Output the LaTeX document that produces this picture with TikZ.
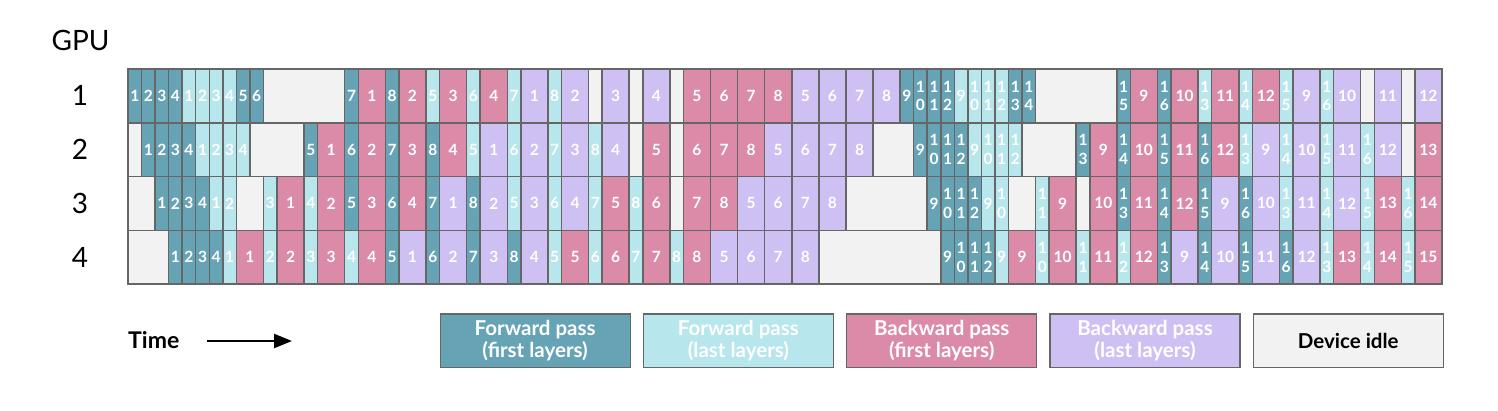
\documentclass[tikz,border=0pt]{standalone}
\usepackage{fontspec}
\setmainfont{Lato}
\usetikzlibrary{arrows.meta}

\definecolor{fwdfirst}{RGB}{101,163,181}
\definecolor{fwdlast}{RGB}{183,230,236}
\definecolor{bwdfirst}{RGB}{219,139,167}
\definecolor{bwdlast}{RGB}{206,192,243}
\definecolor{idlegray}{RGB}{242,242,242}
\definecolor{edgegray}{RGB}{102,102,102}

% one GPU row: kind/width in time slots/label
\newcommand\drawrow[2]{%
  \foreach \kd/\wu/\lbl [count=\idx, remember=\en as \st (initially 0), evaluate=\wu as \en using \st+\wu] in {#2}
    \node[cell, \kd, minimum width={\wu*\CellW*1pt}] (g#1c\idx) at ({\ChartX+\st*\CellW}, {\ChartY+(#1-1)*\RowH}) {\lbl};
}

\begin{document}
\begin{tikzpicture}[x=1pt, y=-1pt,
    cell/.style={draw=edgegray, line width=1.5pt, inner sep=0pt, outer sep=0pt, anchor=north west,
      minimum height={\RowH*1pt}, align=center, text=white, font=\bfseries\fontsize{15.5}{18.7}\selectfont},
    fwdA/.style={fill=fwdfirst},
    fwdB/.style={fill=fwdlast},
    bwdA/.style={fill=bwdfirst},
    bwdB/.style={fill=bwdlast},
    idle/.style={fill=idlegray},
    legend/.style={draw=edgegray, line width=1.2pt, inner sep=0pt, anchor=north west, minimum width=190pt,
      minimum height=53.5pt, align=center, font=\bfseries\fontsize{20.5}{22}\selectfont},
    rowlab/.style={font=\fontsize{28}{32}\selectfont}]
    \gdef\ChartX{128}
    \gdef\ChartY{69}
    \gdef\CellW{13.546}
    \gdef\RowH{53.75}
    \useasboundingbox (0,0) rectangle (1498,410);

    %Labels
    \node[rowlab] (gpu) at (80.5,40) {GPU};
    \foreach \r in {1,...,4}
      \node[rowlab] (lab\r) at (80, {\ChartY+(\r-0.5)*\RowH}) {\r};

    %GPU 1
    \drawrow{1}{fwdA/1/1, fwdA/1/2, fwdA/1/3, fwdA/1/4, fwdB/1/1, fwdB/1/2, fwdB/1/3, fwdB/1/4, fwdA/1/5, fwdA/1/6,
      idle/6/{}, fwdA/1/7, bwdA/2/1, fwdA/1/8, bwdA/2/2, fwdB/1/5, bwdA/2/3, fwdB/1/6, bwdA/2/4, fwdB/1/7, bwdB/2/1,
      fwdB/1/8, bwdB/2/2, idle/1/{}, bwdB/2/3, idle/1/{}, bwdB/2/4, idle/1/{}, bwdA/2/5, bwdA/2/6, bwdA/2/7, bwdA/2/8,
      bwdB/2/5, bwdB/2/6, bwdB/2/7, bwdB/2/8, fwdA/1/9, fwdA/1/{1\\0}, fwdA/1/{1\\1}, fwdA/1/{1\\2}, fwdB/1/9,
      fwdB/1/{1\\0}, fwdB/1/{1\\1}, fwdB/1/{1\\2}, fwdA/1/{1\\3}, fwdA/1/{1\\4}, idle/6/{}, fwdA/1/{1\\5}, bwdA/2/9,
      fwdA/1/{1\\6}, bwdA/2/10, fwdB/1/{1\\3}, bwdA/2/11, fwdB/1/{1\\4}, bwdA/2/12, fwdB/1/{1\\5}, bwdB/2/9,
      fwdB/1/{1\\6}, bwdB/2/10, idle/1/{}, bwdB/2/11, idle/1/{}, bwdB/2/12}

    %GPU 2
    \drawrow{2}{idle/1/{}, fwdA/1/1, fwdA/1/2, fwdA/1/3, fwdA/1/4, fwdB/1/1, fwdB/1/2, fwdB/1/3, fwdB/1/4, idle/4/{},
      fwdA/1/5, bwdA/2/1, fwdA/1/6, bwdA/2/2, fwdA/1/7, bwdA/2/3, fwdA/1/8, bwdA/2/4, fwdB/1/5, bwdB/2/1, fwdB/1/6,
      bwdB/2/2, fwdB/1/7, bwdB/2/3, fwdB/1/8, bwdB/2/4, idle/1/{}, bwdA/2/5, idle/1/{}, bwdA/2/6, bwdA/2/7, bwdA/2/8,
      bwdB/2/5, bwdB/2/6, bwdB/2/7, bwdB/2/8, idle/3/{}, fwdA/1/9, fwdA/1/{1\\0}, fwdA/1/{1\\1}, fwdA/1/{1\\2},
      fwdB/1/9, fwdB/1/{1\\0}, fwdB/1/{1\\1}, fwdB/1/{1\\2}, idle/4/{}, fwdA/1/{1\\3}, bwdA/2/9, fwdA/1/{1\\4},
      bwdA/2/10, fwdA/1/{1\\5}, bwdA/2/11, fwdA/1/{1\\6}, bwdA/2/12, fwdB/1/{1\\3}, bwdB/2/9, fwdB/1/{1\\4},
      bwdB/2/10, fwdB/1/{1\\5}, bwdB/2/11, fwdB/1/{1\\6}, bwdB/2/12, idle/1/{}, bwdA/2/13}

    %GPU 3
    \drawrow{3}{idle/2/{}, fwdA/1/1, fwdA/1/2, fwdA/1/3, fwdA/1/4, fwdB/1/1, fwdB/1/2, idle/2/{}, fwdB/1/3, bwdA/2/1,
      fwdB/1/4, bwdA/2/2, fwdA/1/5, bwdA/2/3, fwdA/1/6, bwdA/2/4, fwdA/1/7, bwdB/2/1, fwdA/1/8, bwdB/2/2, fwdB/1/5,
      bwdB/2/3, fwdB/1/6, bwdB/2/4, fwdB/1/7, bwdA/2/5, fwdB/1/8, bwdA/2/6, idle/1/{}, bwdA/2/7, bwdA/2/8, bwdB/2/5,
      bwdB/2/6, bwdB/2/7, bwdB/2/8, idle/6/{}, fwdA/1/9, fwdA/1/{1\\0}, fwdA/1/{1\\1}, fwdA/1/{1\\2}, fwdB/1/9,
      fwdB/1/{1\\0}, idle/2/{}, fwdB/1/{1\\1}, bwdA/2/9, idle/1/{}, bwdA/2/10, fwdA/1/{1\\3}, bwdA/2/11,
      fwdA/1/{1\\4}, bwdA/2/12, fwdA/1/{1\\5}, bwdB/2/9, fwdA/1/{1\\6}, bwdB/2/10, fwdB/1/{1\\3}, bwdB/2/11,
      fwdB/1/{1\\4}, bwdB/2/12, fwdB/1/{1\\5}, bwdA/2/13, fwdB/1/{1\\6}, bwdA/2/14}

    %GPU 4
    \drawrow{4}{idle/3/{}, fwdA/1/1, fwdA/1/2, fwdA/1/3, fwdA/1/4, fwdB/1/1, bwdA/2/1, fwdB/1/2, bwdA/2/2, fwdB/1/3,
      bwdA/2/3, fwdB/1/4, bwdA/2/4, fwdA/1/5, bwdB/2/1, fwdA/1/6, bwdB/2/2, fwdA/1/7, bwdB/2/3, fwdA/1/8, bwdB/2/4,
      fwdB/1/5, bwdA/2/5, fwdB/1/6, bwdA/2/6, fwdB/1/7, bwdA/2/7, fwdB/1/8, bwdA/2/8, bwdB/2/5, bwdB/2/6, bwdB/2/7,
      bwdB/2/8, idle/9/{}, fwdA/1/9, fwdA/1/{1\\0}, fwdA/1/{1\\1}, fwdA/1/{1\\2}, fwdB/1/9, bwdA/2/9, fwdB/1/{1\\0},
      bwdA/2/10, fwdB/1/{1\\1}, bwdA/2/11, fwdB/1/{1\\2}, bwdA/2/12, fwdA/1/{1\\3}, bwdB/2/9, fwdA/1/{1\\4},
      bwdB/2/10, fwdA/1/{1\\5}, bwdB/2/11, fwdA/1/{1\\6}, bwdB/2/12, fwdB/1/{1\\3}, bwdA/2/13, fwdB/1/{1\\4},
      bwdA/2/14, fwdB/1/{1\\5}, bwdA/2/15}

    %Time axis
    \node[font=\bfseries\fontsize{23}{27}\selectfont, anchor=base west, inner sep=0pt] (time) at (128,348.5) {Time};
    \coordinate (tstart) at (207,341);
    \coordinate (tend) at (292,341);
    \draw[line width=2.5pt, -{Triangle[length=18pt, width=14pt]}] (tstart) -- (tend);

    %Legend
    \foreach \nm/\kd/\txt/\tc [count=\k from 0] in {legA/fwdA/{Forward pass\\(first layers)}/white,
        legB/fwdB/{Forward pass\\(last layers)}/white, legC/bwdA/{Backward pass\\(first layers)}/white,
        legD/bwdB/{Backward pass\\(last layers)}/white, legE/idle/{Device idle}/black}
      \node[legend, \kd, text=\tc] (\nm) at ({439.5+\k*203.3}, 313.3) {\txt};
\end{tikzpicture}
\end{document}
